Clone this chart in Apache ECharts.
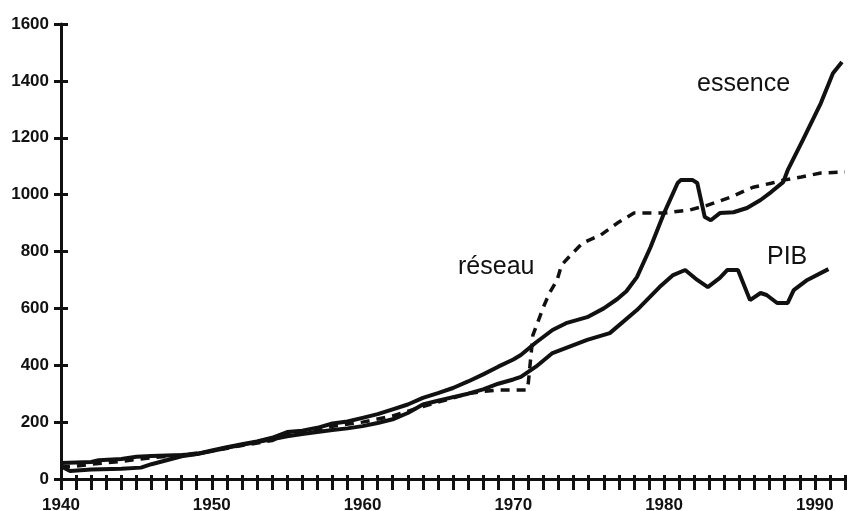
<!DOCTYPE html>
<html>
<head>
<meta charset="utf-8">
<script src="https://cdn.jsdelivr.net/npm/echarts@6/dist/echarts.min.js"></script>
<style>
  html, body { margin: 0; padding: 0; background: #fff; }
  #chart { width: 853px; height: 511px; }
</style>
</head>
<body>
<div id="chart"></div>
<script>
// valeurs (année, indice)
const essenceYears = [1940, 1940.6, 1942, 1944, 1945.3, 1946, 1947, 1948, 1949, 1950, 1951, 1952, 1953, 1954, 1955, 1956, 1957, 1958, 1959, 1960, 1961, 1962, 1963, 1964, 1965, 1966, 1967, 1968, 1969, 1970, 1970.5, 1971.5, 1972.6, 1973.5, 1974.9, 1976, 1976.9, 1977.5, 1978.2, 1979.1, 1980, 1980.9, 1981.1, 1981.9, 1982.2, 1982.7, 1983.1, 1983.7, 1984.6, 1985.5, 1986.4, 1987.1, 1987.9, 1988.2, 1989.2, 1990.4, 1991.2, 1991.8];
const essenceValues = [45, 28, 33, 36, 40, 52, 66, 80, 88, 100, 112, 122, 132, 145, 165, 170, 180, 195, 202, 215, 228, 245, 262, 285, 302, 320, 343, 368, 395, 420, 436, 480, 524, 548, 569, 600, 633, 660, 710, 815, 935, 1041, 1051, 1051, 1041, 921, 910, 935, 938, 953, 981, 1009, 1044, 1086, 1192, 1322, 1427, 1466];

const pibYears = [1940, 1942, 1942.5, 1944, 1945, 1946, 1948, 1949, 1950, 1951, 1952, 1953, 1954, 1955, 1956, 1957, 1958, 1959, 1960, 1961, 1962, 1963, 1964, 1965, 1966, 1967, 1968, 1969, 1970, 1970.5, 1971.5, 1972.6, 1974.9, 1976.4, 1978.2, 1979.7, 1980.6, 1981.4, 1982.2, 1982.9, 1983.7, 1984.2, 1984.9, 1985.7, 1986.4, 1986.8, 1987.5, 1988.2, 1988.6, 1989.5, 1990.9];
const pibValues = [56, 60, 66, 70, 78, 81, 84, 88, 98, 110, 120, 130, 140, 150, 158, 165, 172, 178, 186, 197, 210, 232, 262, 275, 288, 300, 315, 335, 350, 359, 395, 443, 489, 513, 594, 675, 717, 735, 700, 675, 707, 735, 735, 629, 654, 647, 619, 619, 664, 700, 738];

const reseauYears = [1940, 1941, 1942, 1944, 1946, 1948, 1950, 1952, 1954, 1955, 1956, 1958, 1960, 1962, 1964, 1966, 1967, 1968, 1969.1, 1970.9, 1971, 1971.3, 1972, 1972.4, 1972.9, 1973.2, 1973.8, 1974.6, 1975.8, 1976.9, 1978, 1980, 1981.7, 1982.9, 1984.4, 1985.9, 1987.1, 1987.9, 1989.1, 1990.4, 1992];
const reseauValues = [42, 45, 52, 62, 75, 84, 98, 118, 135, 160, 165, 185, 200, 222, 255, 285, 300, 308, 313, 313, 340, 506, 605, 654, 699, 752, 787, 830, 858, 900, 935, 935, 946, 963, 991, 1026, 1040, 1051, 1062, 1076, 1080];

const yearLabels = [1940, 1950, 1960, 1970, 1980, 1990];

const pairs = (xs, ys) => xs.map((x, i) => [x, ys[i]]);

const chart = echarts.init(document.getElementById('chart'));
const font = 'Liberation Sans, Arial, sans-serif';
const black = '#111';

const option = {
  animation: false,
  backgroundColor: '#fff',
  grid: { left: 61, right: 8, top: 24, bottom: 32, outerBoundsMode: 'none', containLabel: false },
  xAxis: [
    {
      type: 'value', min: 1940, max: 1992, interval: 1,
      axisLine: { show: true, lineStyle: { color: black, width: 3 } },
      axisTick: { show: false },
      axisLabel: {
        margin: 18, color: black, fontFamily: font, fontSize: 17, fontWeight: 'bold',
        formatter: (v) => (yearLabels.includes(v) ? String(v) : '')
      },
      splitLine: { show: false }
    },
    {
      // graduations qui traversent l'axe
      type: 'value', min: 1940, max: 1992, interval: 1, position: 'bottom', offset: -4,
      axisLine: { show: false, onZero: false },
      axisTick: { show: true, length: 15, lineStyle: { color: black, width: 3 } },
      axisLabel: { show: false },
      splitLine: { show: false }
    }
  ],
  yAxis: [
    {
      type: 'value', min: 0, max: 1600, interval: 200,
      axisLine: { show: true, lineStyle: { color: black, width: 3 } },
      axisTick: { show: false },
      axisLabel: {
        margin: 12, color: black, fontFamily: font, fontSize: 17, fontWeight: 'bold',
        formatter: (v) => String(v)
      },
      splitLine: { show: false }
    },
    {
      type: 'value', min: 0, max: 1600, interval: 200, position: 'left', offset: -7,
      axisLine: { show: false, onZero: false },
      axisTick: { show: true, length: 14, lineStyle: { color: black, width: 3 } },
      axisLabel: { show: false },
      splitLine: { show: false }
    }
  ],
  series: [
    {
      name: 'réseau', type: 'line', showSymbol: false, symbol: 'none',
      data: pairs(reseauYears, reseauValues),
      lineStyle: { color: black, width: 3.5, type: [9, 7] }
    },
    {
      name: 'PIB', type: 'line', showSymbol: false, symbol: 'none',
      data: pairs(pibYears, pibValues),
      lineStyle: { color: black, width: 4 }
    },
    {
      name: 'essence', type: 'line', showSymbol: false, symbol: 'none',
      data: pairs(essenceYears, essenceValues),
      lineStyle: { color: black, width: 4 }
    }
  ],
  graphic: [
    { type: 'text', left: 697, top: 72, style: { text: 'essence', font: '25px ' + font, fill: black } },
    { type: 'text', left: 458, top: 255, style: { text: 'réseau', font: '25px ' + font, fill: black } },
    { type: 'text', left: 767, top: 245, style: { text: 'PIB', font: '25px ' + font, fill: black } }
  ]
};

chart.setOption(option);
</script>
</body>
</html>
